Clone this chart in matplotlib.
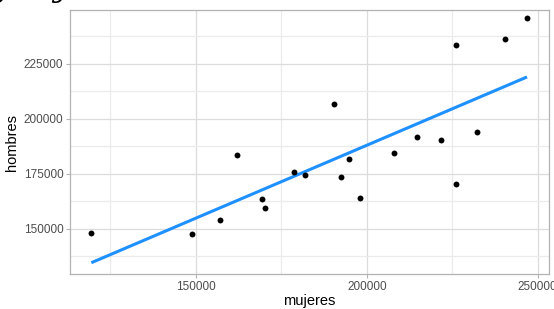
import numpy as np
import matplotlib
matplotlib.use("Agg")
import matplotlib.pyplot as plt
from matplotlib.ticker import MultipleLocator

# datos
mujeres = [119400, 148900, 156900, 162100, 169200, 170300, 178650, 181970,
           192400, 194650, 198040, 207890, 226020, 190260, 214620, 221640,
           232250, 226020, 240350, 246870]
hombres = [148050, 147600, 154230, 183640, 163640, 159700, 175770, 174550,
           173770, 181680, 163950, 184680, 170300, 206950, 191820, 190320,
           194090, 233640, 236360, 245900]
x_ticks = [150000, 200000, 250000]
y_ticks = [150000, 175000, 200000, 225000]

plt.rcParams['font.family'] = ['Liberation Sans', 'DejaVu Sans']

fig = plt.figure(figsize=(5.54, 3.09), dpi=100)
ax = fig.add_axes([0.1269, 0.1133, 0.991 - 0.1269, 0.9667 - 0.1133])

# recta de regresion (lm)
x = np.array(mujeres)
y = np.array(hombres)
m, b = np.polyfit(x, y, 1)
xs = np.linspace(x.min(), x.max(), 100)
ax.plot(xs, m * xs + b, color='#1E90FF', lw=2.2, zorder=3, solid_capstyle='butt')

ax.scatter(mujeres, hombres, s=18, color='black', zorder=4, linewidths=0)

ax.set_xlim(113250, 253300)
ax.set_ylim(129550, 249400)
ax.set_xticks(x_ticks)
ax.set_yticks(y_ticks)
ax.xaxis.set_minor_locator(MultipleLocator(25000))
ax.yaxis.set_minor_locator(MultipleLocator(12500))
ax.grid(which='major', color='#DCDCDC', lw=0.9)
ax.grid(which='minor', color='#EBEBEB', lw=0.9)
ax.set_axisbelow(True)
for s in ax.spines.values():
    s.set_color('#B3B3B3')
    s.set_linewidth(0.9)
ax.tick_params(which='major', length=3, color='#B3B3B3', labelsize=8.5,
               labelcolor='#4D4D4D', pad=2)
ax.tick_params(which='minor', length=0)

ax.set_xlabel("mujeres", fontsize=10.5, labelpad=1)
ax.set_ylabel("hombres", fontsize=10.5, labelpad=3)

# titulo cortado arriba (solo se ven los trazos inferiores)
fig.text(-0.012, 1.012, "y", fontsize=22, family='DejaVu Serif',
         style='italic', va='baseline')
fig.text(0.095, 1.012, "y", fontsize=22, family='DejaVu Serif',
         style='italic', va='baseline')

fig.savefig("out.png", dpi=100)
